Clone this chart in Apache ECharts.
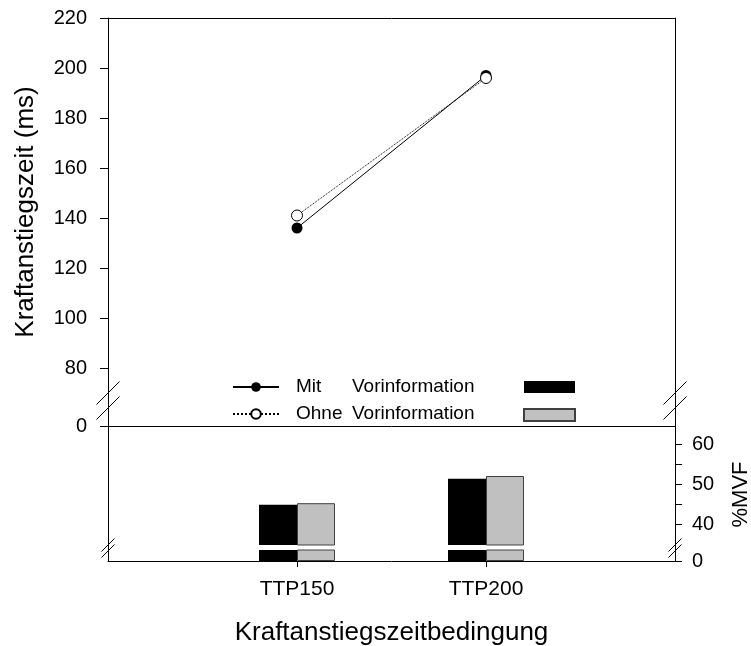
<!DOCTYPE html>
<html>
<head>
<meta charset="utf-8">
<script src="https://cdn.jsdelivr.net/npm/echarts@6.0.0/dist/echarts.min.js"></script>
<style>
html, body { margin: 0; padding: 0; background: #fff; }
#chart { width: 751px; height: 646px; }
</style>
</head>
<body>
<div id="chart"></div>
<script>
// Daten
var categories = ['TTP150', 'TTP200'];
var mitZeit = [136, 197];      // Kraftanstiegszeit (ms), mit Vorinformation
var ohneZeit = [141, 196];     // ohne Vorinformation
var mitMVF = [44.8, 51.3];     // %MVF
var ohneMVF = [45.2, 52.0];
var zeitTicks = [80, 100, 120, 140, 160, 180, 200, 220];
var mvfLabels = [40, 50, 60];
var mvfTicks = [40, 45, 50, 55, 60];

var FONT = '"Liberation Sans", Arial, sans-serif';
var L = 108, W = 567;
var black = { color: '#000', width: 1 };

// Kategorien fuer Balken: leere Raender, damit TTP150/TTP200 bei 1/3 und 2/3 liegen
var barCats = [''].concat(categories, ['']);
function pad(arr) { return [null].concat(arr, [null]); }
function pts(arr) { return arr.map(function (v, i) { return [i + 1, v]; }); }

function lineOnly(grid, pos) {
    return {
        gridIndex: grid, type: 'value', position: pos,
        axisLine: { show: true, onZero: false, lineStyle: black },
        axisTick: { show: false }, axisLabel: { show: false }, splitLine: { show: false }
    };
}
function xLine(grid, pos) {
    return {
        gridIndex: grid, type: 'value', min: 0, max: 3, position: pos,
        axisLine: { show: true, onZero: false, lineStyle: black },
        axisTick: { show: false }, axisLabel: { show: false }, splitLine: { show: false }
    };
}

// Achsenbrueche
function brk(x, y, h) {
    return { type: 'line', silent: true, shape: { x1: x - h, y1: y + h, x2: x + h, y2: y - h },
             style: { stroke: '#000', lineWidth: 1 } };
}
function seg(x, y1, y2) {
    return { type: 'line', silent: true, shape: { x1: x + 0.5, y1: y1, x2: x + 0.5, y2: y2 },
             style: { stroke: '#000', lineWidth: 1 } };
}

var chart = echarts.init(document.getElementById('chart'));
var option = {
    animation: false,
    backgroundColor: '#fff',
    textStyle: { fontFamily: FONT },
    grid: [
        { left: L, width: W, top: 18, height: 380, containLabel: false, outerBoundsMode: 'none' },
        { left: L, width: W, top: 398, height: 28, containLabel: false, outerBoundsMode: 'none' },
        { left: L, width: W, top: 426, height: 119, containLabel: false, outerBoundsMode: 'none' },
        { left: L, width: W, top: 550, height: 11, containLabel: false, outerBoundsMode: 'none' }
    ],
    legend: [
        {
            data: ['Mit Vorinformation', 'Ohne Vorinformation'],
            orient: 'vertical', left: 232, top: 377, padding: 0,
            itemWidth: 46, itemHeight: 12, itemGap: 7,
            textStyle: { fontSize: 19, lineHeight: 20, fontFamily: FONT, color: '#000',
                rich: {
                    s: { width: 12 },
                    a: { width: 56, fontSize: 19, fontFamily: FONT, color: '#000' }
                } },
            formatter: function (name) {
                var p = name.split(' ');
                return '{s|}{a|' + p[0] + '}' + p[1];
            }
        },
        {
            data: ['Mit (%MVF)', 'Ohne (%MVF)'],
            orient: 'vertical', left: 523, top: 381, padding: 0,
            itemWidth: 51, itemHeight: 12, itemGap: 15, icon: 'rect',
            textStyle: { fontSize: 10, lineHeight: 12 },
            formatter: function () { return ''; }
        }
    ],
    xAxis: [
        xLine(0, 'top'),
        xLine(1, 'bottom'),
        { gridIndex: 2, type: 'category', data: barCats, boundaryGap: false, show: false },
        {
            gridIndex: 3, type: 'category', data: barCats, boundaryGap: false, position: 'bottom',
            axisLine: { show: true, lineStyle: black },
            axisTick: { show: true, length: 6, lineStyle: black,
                        interval: function (i, v) { return v !== ''; } },
            axisLabel: { fontSize: 21, fontFamily: FONT, color: '#000', margin: 18, interval: 0 },
            splitLine: { show: false },
            name: 'Kraftanstiegszeitbedingung', nameLocation: 'middle', nameGap: 59,
            nameTextStyle: { fontSize: 26, fontFamily: FONT, color: '#000' }
        }
    ],
    yAxis: [
        {
            gridIndex: 0, type: 'value', min: 68, max: 220, position: 'left',
            axisLine: { show: true, onZero: false, lineStyle: black },
            axisTick: { show: true, length: 8, lineStyle: black, customValues: zeitTicks },
            axisLabel: { customValues: zeitTicks, margin: 21, fontSize: 20, fontFamily: FONT, color: '#000' },
            splitLine: { show: false },
            name: 'Kraftanstiegszeit (ms)', nameLocation: 'middle', nameGap: 69, nameRotate: 90,
            nameTextStyle: { fontSize: 26, fontFamily: FONT, color: '#000', padding: [0, 8, 0, 0] }
        },
        lineOnly(0, 'right'),
        {
            gridIndex: 1, type: 'value', min: 0, max: 10, position: 'left',
            axisLine: { show: true, onZero: false, lineStyle: black },
            axisTick: { show: true, length: 8, lineStyle: black, customValues: [0] },
            axisLabel: { customValues: [0], margin: 21, fontSize: 20, fontFamily: FONT, color: '#000' },
            splitLine: { show: false }
        },
        lineOnly(1, 'right'),
        lineOnly(2, 'left'),
        {
            gridIndex: 2, type: 'value', min: 34.75, max: 64.5, position: 'right',
            axisLine: { show: true, onZero: false, lineStyle: black },
            axisTick: { show: true, length: 7, lineStyle: black, customValues: mvfTicks },
            axisLabel: { customValues: mvfLabels, margin: 17, fontSize: 20, fontFamily: FONT, color: '#000' },
            splitLine: { show: false },
            name: '%MVF', nameLocation: 'middle', nameGap: 55, nameRotate: 90,
            nameTextStyle: { fontSize: 22, fontFamily: FONT, color: '#000', padding: [0, 18, 0, 0] }
        },
        lineOnly(3, 'left'),
        {
            gridIndex: 3, type: 'value', min: 0, max: 30, position: 'right',
            axisLine: { show: true, onZero: false, lineStyle: black },
            axisTick: { show: true, length: 7, lineStyle: black, customValues: [0] },
            axisLabel: { customValues: [0], margin: 17, fontSize: 20, fontFamily: FONT, color: '#000' },
            splitLine: { show: false }
        }
    ],
    series: [
        {
            name: 'Mit Vorinformation', type: 'line', xAxisIndex: 0, yAxisIndex: 0,
            data: pts(mitZeit), symbol: 'circle', symbolSize: 11,
            itemStyle: { color: '#000' },
            lineStyle: { color: '#000', width: 1, type: 'solid' }
        },
        {
            name: 'Ohne Vorinformation', type: 'line', xAxisIndex: 0, yAxisIndex: 0,
            data: pts(ohneZeit), symbol: 'circle', symbolSize: 11,
            itemStyle: { color: '#fff', borderColor: '#000', borderWidth: 1 },
            lineStyle: { color: '#000', width: 1, type: 'dotted' }
        },
        {
            name: 'Mit (%MVF)', type: 'bar', xAxisIndex: 2, yAxisIndex: 5, clip: true,
            data: pad(mitMVF), barWidth: 38, barGap: '0%',
            itemStyle: { color: '#000' }
        },
        {
            name: 'Ohne (%MVF)', type: 'bar', xAxisIndex: 2, yAxisIndex: 5, clip: true,
            data: pad(ohneMVF), barWidth: 38, barGap: '0%',
            itemStyle: { color: '#c0c0c0', borderColor: '#404040', borderWidth: 1 }
        },
        {
            name: 'Mit (%MVF)', type: 'bar', xAxisIndex: 3, yAxisIndex: 7, clip: true,
            data: pad(mitMVF), barWidth: 38, barGap: '0%',
            itemStyle: { color: '#000' }
        },
        {
            name: 'Ohne (%MVF)', type: 'bar', xAxisIndex: 3, yAxisIndex: 7, clip: true,
            data: pad(ohneMVF), barWidth: 38, barGap: '0%',
            itemStyle: { color: '#c0c0c0', borderColor: '#404040', borderWidth: 1 }
        }
    ],
    graphic: [
        seg(L, 545, 550), seg(L + W, 545, 550),
        brk(L, 393, 11.5), brk(L, 408, 11.5),
        brk(L + W, 393, 11.5), brk(L + W, 408, 11.5),
        brk(L, 545, 6.5), brk(L, 551, 6.5),
        brk(L + W, 545, 6.5), brk(L + W, 551, 6.5)
    ]
};
chart.setOption(option);
</script>
</body>
</html>
